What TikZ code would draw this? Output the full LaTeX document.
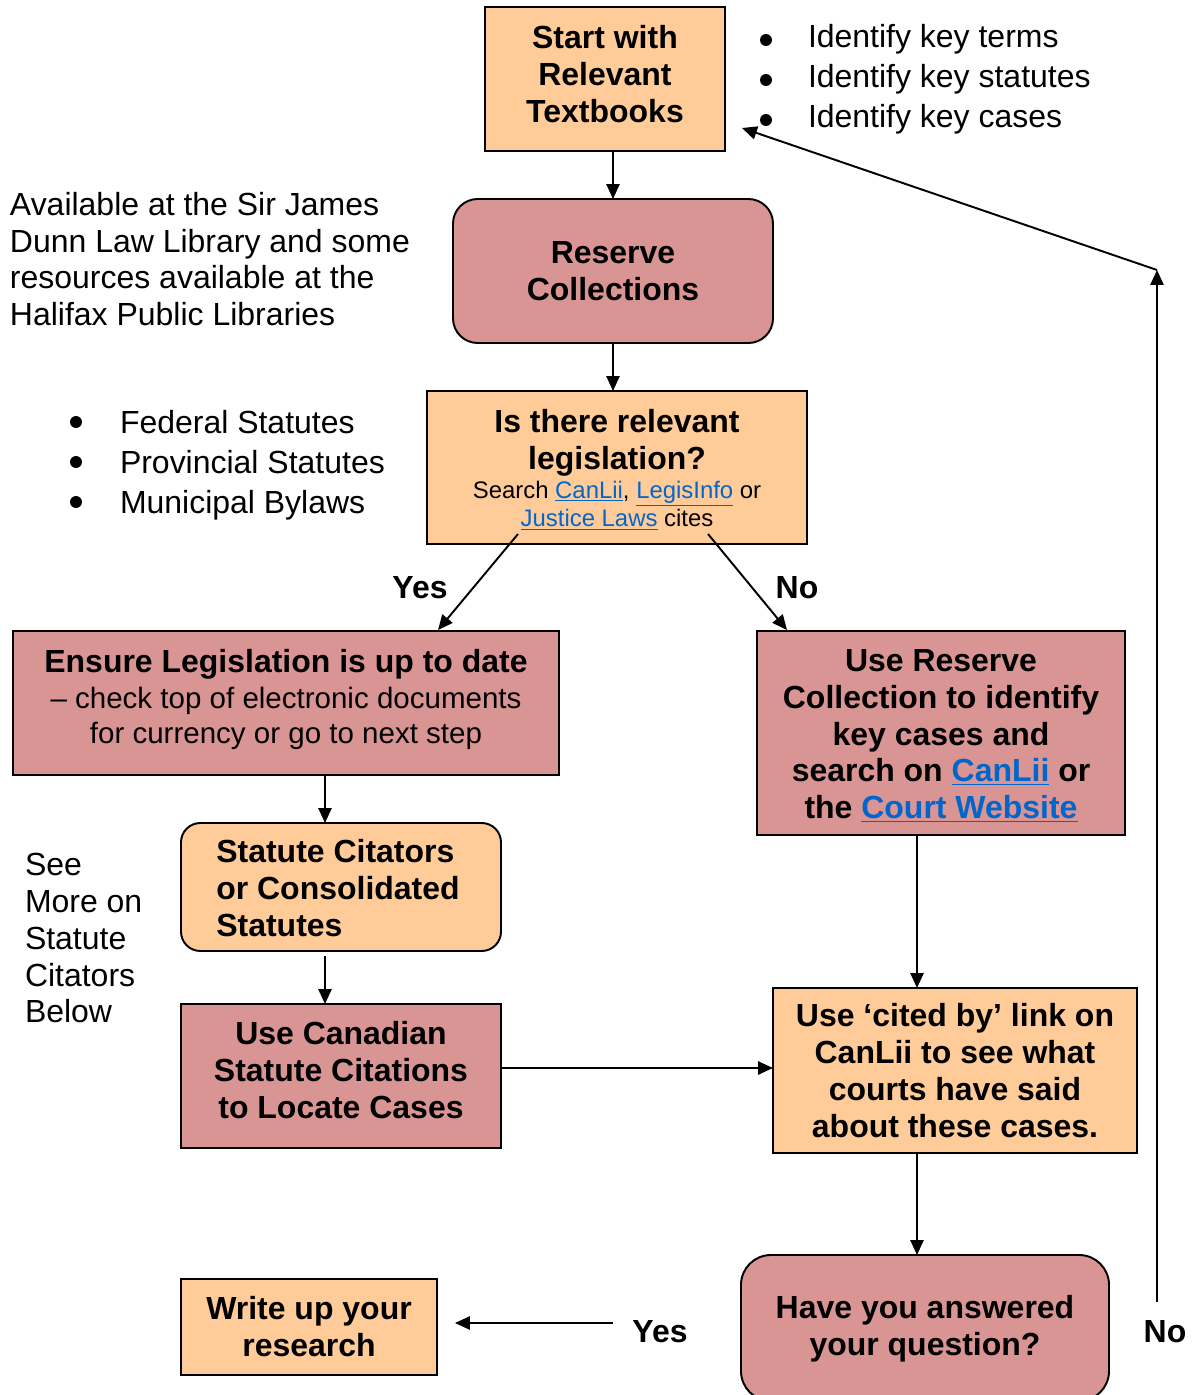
\documentclass[tikz,border=0pt]{standalone}
\usepackage{fontspec}
\setmainfont{Liberation Sans}
\usetikzlibrary{arrows.meta,calc}
\definecolor{peach}{HTML}{FFCC99}
\definecolor{rose}{HTML}{D99594}
\definecolor{linkblue}{HTML}{0066CC}
\newcommand\lnk[1]{\textcolor{linkblue}{\underline{#1}}}
\newcommand\smalltxt{\fontsize{13.6}{16}\selectfont\mdseries}
\newcommand\midtxt{\fontsize{16.8}{19}\selectfont\mdseries}
\tikzset{
  every node/.style={inner sep=0pt, outer sep=0pt},
  base/.style={draw=black, line width=1.1pt, align=center,
    font=\fontsize{18.2}{21}\selectfont\bfseries},
  boxtext/.style={align=center, font=\fontsize{18.2}{21}\selectfont\bfseries},
  wh/.style 2 args={minimum width=#1*0.02cm, minimum height=#2*0.02cm},
  peachbox/.style={base, fill=peach},
  rosebox/.style={base, fill=rose},
  plain/.style={font=\fontsize{18.2}{21}\selectfont, align=left},
  lbl/.style={font=\fontsize{18.2}{21}\selectfont\bfseries},
  dot/.style={fill=black},
  arr/.style={line width=1.1pt, -{Triangle[length=8.5pt,width=7.5pt]}},
}
\begin{document}
\begin{tikzpicture}[x=0.02cm,y=-0.02cm]
\useasboundingbox (0,0) rectangle (1193,1395);

% boxes
\node[peachbox, wh={240}{144}] (box1) at (605,79) {};
\node[boxtext] (box1t) at ($(box1)+(0,-5)$) {Start with\\Relevant\\Textbooks};
\node[rosebox, wh={320}{144}, rounded corners=14pt] (box2) at (613,271) {Reserve\\Collections};
\node[peachbox, wh={380}{153}] (box3) at (617,467.5) {};
\node[boxtext] (box3t) at ($(box3)+(0,2)$)
  {Is there relevant\\legislation?\\[-4.5pt]{\smalltxt Search \lnk{CanLii}, \lnk{LegisInfo} or}\\[-5pt]{\smalltxt \lnk{Justice Laws} cites}};
\node[rosebox, wh={546}{144}] (box4) at (286,703) {};
\node[boxtext] (box4t) at ($(box4)+(0,-4)$)
  {Ensure Legislation is up to date\\{\midtxt -- check top of electronic documents}\\[-1.6pt]{\midtxt for currency or go to next step}};
\node[rosebox, wh={368}{204}] (box5) at (941,733) {};
\node[boxtext] (box5t) at ($(box5)+(0,3)$)
  {Use Reserve\\Collection to identify\\key cases and\\search on \lnk{CanLii} or\\the \lnk{Court Website}};
\node[peachbox, wh={320}{128}, rounded corners=11pt, align=left] (box6) at (341,887) {};
\node[boxtext, align=left] (box6t) at ($(box6)+(-3,1)$)
  {Statute Citators\\or Consolidated\\Statutes};
\node[rosebox, wh={320}{144}] (box7) at (341,1076) {};
\node[boxtext] (box7t) at ($(box7)+(0,-6)$)
  {Use Canadian\\Statute Citations\\to Locate Cases};
\node[peachbox, wh={364}{165}] (box8) at (955,1070.5)
  {Use ‘cited by’ link on\\CanLii to see what\\courts have said\\about these cases.};
\node[rosebox, wh={368}{146}, rounded corners=17pt] (box9) at (925,1328) {};
\node[boxtext] (box9t) at ($(box9)+(0,1)$) {Have you answered\\your question?};
\node[peachbox, wh={256}{96}] (box10) at (309,1327)
  {Write up your\\research};

% side texts
\fill[dot] (766,40) circle[radius=3.4pt];
\fill[dot] (766,80) circle[radius=3.4pt];
\fill[dot] (766,120) circle[radius=3.4pt];
\node[plain, anchor=base west] (t1) at (808,48) {Identify key terms};
\node[plain, anchor=base west] (t2) at (808,88) {Identify key statutes};
\node[plain, anchor=base west] (t3) at (808,128) {Identify key cases};
\node[plain, anchor=north west] (avail) at (10,192)
  {Available at the Sir James\\Dunn Law Library and some\\resources available at the\\Halifax Public Libraries};
\fill[dot] (76,422) circle[radius=3.4pt];
\fill[dot] (76,462) circle[radius=3.4pt];
\fill[dot] (76,502) circle[radius=3.4pt];
\node[plain, anchor=base west] (s1) at (120,433) {Federal Statutes};
\node[plain, anchor=base west] (s2) at (120,473) {Provincial Statutes};
\node[plain, anchor=base west] (s3) at (120,513) {Municipal Bylaws};
\node[plain, anchor=north west] (see) at (25,853)
  {See\\More on\\Statute\\Citators\\Below};

% labels
\node[lbl] (yes1) at (420,588) {Yes};
\node[lbl] (no1) at (797,588) {No};
\node[lbl] (yes2) at (660,1332) {Yes};
\node[lbl] (no2) at (1165,1332) {No};

% helper coordinates
\coordinate (xa) at (325,0);
\coordinate (xb) at (917,0);
\coordinate (ya) at (0,1068);
\coordinate (yesS) at (518,534);
\coordinate (yesE) at (438,630);
\coordinate (noS) at (708,534);
\coordinate (noE) at (787,630);
\coordinate (yesA) at (613,1323);
\coordinate (noA) at (1157,1302);
\coordinate (noB) at (1157,270);
\coordinate (noC) at (742,128);

% connectors
\draw[arr] (box2.north |- box1.south) -- (box2.north);
\draw[arr] (box2.south) -- (box2.south |- box3.north);
\draw[arr] (yesS) -- (yesE);
\draw[arr] (noS) -- (noE);
\draw[arr] (box4.south -| xa) -- (box6.north -| xa);
\draw[arr, shorten <=2.8pt] (box6.south -| xa) -- (box7.north -| xa);
\draw[arr] (box7.east |- ya) -- (box8.west |- ya);
\draw[arr] (box5.south -| xb) -- (box8.north -| xb);
\draw[arr] (box8.south -| xb) -- (box9.north -| xb);
\draw[arr, shorten >=10.2pt] (yesA) -- (box10.east |- yesA);
\draw[arr] (noA) -- (noB);
\draw[arr] (noB) -- (noC);
\end{tikzpicture}
\end{document}
